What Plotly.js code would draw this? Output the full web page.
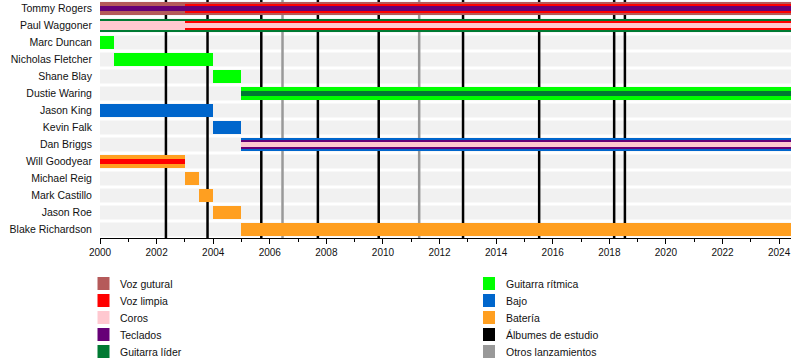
<!DOCTYPE html>
<html>
<head>
<meta charset="utf-8">
<script src="https://cdn.plot.ly/plotly-3.0.1.min.js"></script>
<style>
  html, body { margin: 0; padding: 0; background: #fff; }
  #chart { width: 800px; height: 364px; }
</style>
</head>
<body>
<div id="chart"></div>
<script>
// ---------- DATA ----------
const END = 2024.42;
const members = ["Tommy Rogers", "Paul Waggoner", "Marc Duncan", "Nicholas Fletcher", "Shane Blay",
  "Dustie Waring", "Jason King", "Kevin Falk", "Dan Briggs", "Will Goodyear", "Michael Reig",
  "Mark Castillo", "Jason Roe", "Blake Richardson"];

// primary roles (full-thickness bars)
const primMember = ["Tommy Rogers", "Paul Waggoner", "Marc Duncan", "Nicholas Fletcher", "Shane Blay",
  "Dustie Waring", "Jason King", "Kevin Falk", "Dan Briggs", "Will Goodyear", "Michael Reig",
  "Mark Castillo", "Jason Roe", "Blake Richardson"];
const primRole = ["Voz gutural", "Guitarra líder", "Guitarra rítmica", "Guitarra rítmica", "Guitarra rítmica",
  "Guitarra rítmica", "Bajo", "Bajo", "Bajo", "Batería", "Batería", "Batería", "Batería", "Batería"];
const primStart = [2000, 2000, 2000, 2000.5, 2004, 2005, 2000, 2004, 2005, 2000, 2003, 2003.5, 2004, 2005];
const primEnd = [END, END, 2000.5, 2004, 2005, END, 2004, 2005, END, 2003, 2003.5, 2004, 2005, END];

// secondary roles (medium bars)
const secMember = ["Tommy Rogers", "Paul Waggoner", "Paul Waggoner", "Dan Briggs"];
const secRole = ["Voz limpia", "Coros", "Voz limpia", "Teclados"];
const secStart = [2003, 2000, 2003, 2005];
const secEnd = [END, 2003, END, END];

// tertiary roles (thin bars)
const terMember = ["Tommy Rogers", "Paul Waggoner", "Dan Briggs", "Will Goodyear", "Dustie Waring"];
const terRole = ["Teclados", "Coros", "Coros", "Voz limpia", "Guitarra líder"];
const terStart = [2000, 2003, 2005, 2000, 2005];
const terEnd = [END, END, END, 2003, END];

// releases
const studioAlbums = [2002.33, 2003.8, 2005.7, 2007.7, 2009.85, 2012.83, 2015.52, 2018.17, 2018.55];
const otherReleases = [2006.45, 2011.28];

// legend
const legendCol1 = ["Voz gutural", "Voz limpia", "Coros", "Teclados", "Guitarra líder"];
const legendCol2 = ["Guitarra rítmica", "Bajo", "Batería", "Álbumes de estudio", "Otros lanzamientos"];

// ---------- STYLE ----------
const colors = {
  "Voz gutural": "#B55A5A",
  "Voz limpia": "#FF0000",
  "Coros": "#FFC8D0",
  "Teclados": "#660077",
  "Guitarra líder": "#007A33",
  "Guitarra rítmica": "#00FF00",
  "Bajo": "#0066CC",
  "Batería": "#FF9F20",
  "Álbumes de estudio": "#000000",
  "Otros lanzamientos": "#999999"
};
const FONT = "Liberation Sans, Arial, sans-serif";
const ML = 100, MR = 9, MT = 0, MB = 126, W = 800, H = 364;
const PW = W - ML - MR, PH = H - MT - MB;
const px2x = px => (px - ML) / PW;
const px2y = py => (MT + PH - py) / PH;

// ---------- TRACES ----------
const traces = [];
function addLayer(mem, role, st, en, width) {
  const uniq = [...new Set(role)];
  uniq.forEach(r => {
    const y = [], base = [], x = [];
    role.forEach((rr, i) => {
      if (rr === r) { y.push(mem[i]); base.push(st[i]); x.push(en[i] - st[i]); }
    });
    traces.push({
      type: "bar", orientation: "h", y: y, base: base, x: x, width: width,
      marker: { color: colors[r], line: { width: 0 } },
      name: r, showlegend: false, hoverinfo: "skip"
    });
  });
}
addLayer(primMember, primRole, primStart, primEnd, 0.73);
addLayer(secMember, secRole, secStart, secEnd, 0.50);
addLayer(terMember, terRole, terStart, terEnd, 0.27);

// ---------- SHAPES ----------
const shapes = [];
const yTop = -0.5, yBot = members.length - 0.5;
// row background bands
members.forEach((m, i) => {
  shapes.push({ type: "rect", xref: "x", yref: "y", x0: 2000, x1: END, y0: i - 0.41, y1: i + 0.41,
    fillcolor: "#f1f1f1", line: { width: 0 }, layer: "below" });
});
otherReleases.forEach(d => shapes.push({ type: "line", xref: "x", yref: "y", x0: d, x1: d, y0: yTop, y1: yBot,
  line: { color: colors["Otros lanzamientos"], width: 2.5 }, layer: "below" }));
studioAlbums.forEach(d => shapes.push({ type: "line", xref: "x", yref: "y", x0: d, x1: d, y0: yTop, y1: yBot,
  line: { color: colors["Álbumes de estudio"], width: 2.5 }, layer: "below" }));

// custom legend
const annotations = [];
function addLegendCol(items, swX, txtX) {
  items.forEach((name, i) => {
    const top = 277 + 17 * i;
    shapes.push({ type: "rect", xref: "paper", yref: "paper",
      x0: px2x(swX), x1: px2x(swX + 12), y0: px2y(top + 13), y1: px2y(top),
      fillcolor: colors[name], line: { width: 0 } });
    annotations.push({ xref: "paper", yref: "paper", x: px2x(txtX), y: px2y(top + 7),
      xanchor: "left", yanchor: "middle", text: name, showarrow: false,
      font: { family: FONT, size: 10.5, color: "#111" } });
  });
}
addLegendCol(legendCol1, 97.5, 118);
addLegendCol(legendCol2, 483, 504);

const layout = {
  width: W, height: H,
  margin: { l: ML, r: MR, t: MT, b: MB, pad: 0 },
  paper_bgcolor: "#fff", plot_bgcolor: "#fff",
  barmode: "overlay", bargap: 0,
  showlegend: false,
  font: { family: FONT, size: 10.5, color: "#111" },
  xaxis: {
    type: "linear", range: [2000, END], tick0: 2000, dtick: 2,
    ticks: "outside", ticklen: 5, tickcolor: "#000", tickwidth: 1,
    minor: { dtick: 1, ticks: "outside", ticklen: 3, tickcolor: "#000", showgrid: false },
    showgrid: false, zeroline: false, showline: true, linecolor: "#000", linewidth: 1,
    tickfont: { family: FONT, size: 10, color: "#111" }, fixedrange: true
  },
  yaxis: {
    type: "category", categoryorder: "array", categoryarray: members,
    range: [members.length - 0.5, -0.5],
    ticks: "outside", ticklen: 5, tickcolor: "rgba(0,0,0,0)",
    showgrid: false, zeroline: false, showline: false,
    tickfont: { family: FONT, size: 10.5, color: "#111" }, fixedrange: true
  },
  shapes: shapes,
  annotations: annotations
};

Plotly.newPlot("chart", traces, layout, { staticPlot: true, displayModeBar: false });
</script>
</body>
</html>
